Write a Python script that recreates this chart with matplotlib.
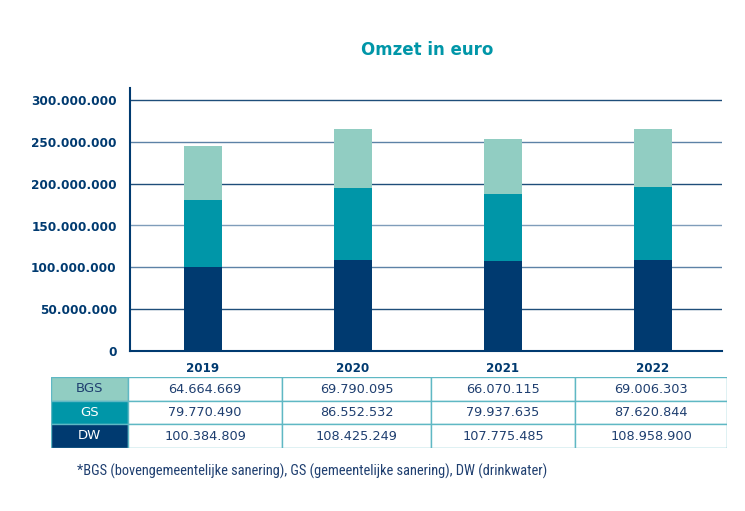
import matplotlib.pyplot as plt
import matplotlib as mpl
import numpy as np
from matplotlib.patches import Rectangle

# data
years = ["2019", "2020", "2021", "2022"]
series = ["BGS", "GS", "DW"]
bgs = [64664669, 69790095, 66070115, 69006303]
gs = [79770490, 86552532, 79937635, 87620844]
dw = [100384809, 108425249, 107775485, 108958900]
yticks = [0, 50e6, 100e6, 150e6, 200e6, 250e6, 300e6]
footnote = "*BGS (bovengemeentelijke sanering), GS (gemeentelijke sanering), DW (drinkwater)"

navy = "#003a70"
teal = "#0096a8"
light = "#91cdc2"
textnavy = "#1f3f70"
colors = {"BGS": light, "GS": teal, "DW": navy}
cond = ["Roboto Condensed", "DejaVu Sans"]

W, H = 745, 511
fig = plt.figure(figsize=(W / 100, H / 100), dpi=100)

def box(x0, y0, x1, y1):
    return [x0 / W, 1 - y1 / H, (x1 - x0) / W, (y1 - y0) / H]

ax = fig.add_axes(box(130, 88, 722, 351))
x = np.arange(len(years))
bw = 0.25
ax.bar(x, dw, bw, color=navy, zorder=3)
ax.bar(x, gs, bw, bottom=dw, color=teal, zorder=3)
ax.bar(x, bgs, bw, bottom=np.add(dw, gs), color=light, zorder=3)

ax.set_xlim(-0.487, 3.46)
ax.set_ylim(0, 300e6 * 263 / 251)
ax.set_yticks(yticks)
ax.set_yticklabels(["{:,.0f}".format(v).replace(",", ".") for v in yticks],
                   fontweight="bold", fontsize=8.7, color=navy)
ax.set_xticks(x)
ax.set_xticklabels(years, fontweight="bold", fontsize=8.6, color=navy)
ax.tick_params(axis="both", length=0)
ax.tick_params(axis="y", pad=9.5)
ax.tick_params(axis="x", pad=8)
grid_cols = ["#1f4e7a", "#5c82a6", "#1f4e7a", "#7f9dba", "#5c82a6", "#1f4e7a"]
for v, c in zip(yticks[1:], grid_cols[::-1]):
    ax.axhline(v, color=c, lw=1, zorder=1)
for s in ["top", "right"]:
    ax.spines[s].set_visible(False)
for s in ["left", "bottom"]:
    ax.spines[s].set_color(navy)
    ax.spines[s].set_linewidth(1.5)

fig.text(427 / W, 1 - 50 / H, "Omzet in euro", ha="center", va="center",
         fontsize=12, fontweight="bold", color=teal)

# table
tab = fig.add_axes(box(51, 377, 727, 448))
tab.set_xlim(51, 727)
tab.set_ylim(448, 377)
tab.axis("off")
col_edges = [51, 128, 282, 431, 575, 727]
row_edges = [377, 401, 424, 448]
border = "#5fb8c4"
values = {"BGS": bgs, "GS": gs, "DW": dw}
for r, name in enumerate(series):
    y0, y1 = row_edges[r], row_edges[r + 1]
    tab.add_patch(Rectangle((col_edges[0], y0), col_edges[1] - col_edges[0], y1 - y0,
                            facecolor=colors[name], edgecolor=border, lw=1))
    tab.text((col_edges[0] + col_edges[1]) / 2, (y0 + y1) / 2, name, ha="center", va="center",
             fontsize=9.5, color=textnavy if name == "BGS" else "white")
    for c, v in enumerate(values[name]):
        xa, xb = col_edges[c + 1], col_edges[c + 2]
        tab.add_patch(Rectangle((xa, y0), xb - xa, y1 - y0, facecolor="white",
                                edgecolor=border, lw=1))
        tab.text((xa + xb) / 2, (y0 + y1) / 2 + 0.5, "{:,}".format(v).replace(",", "."),
                 ha="center", va="center", fontsize=9.3, color=textnavy)

fig.text(77 / W, 1 - 471 / H, footnote, ha="left", va="center", fontsize=10.35,
         fontfamily=cond, color=textnavy)

fig.savefig("out.png", dpi=100)
